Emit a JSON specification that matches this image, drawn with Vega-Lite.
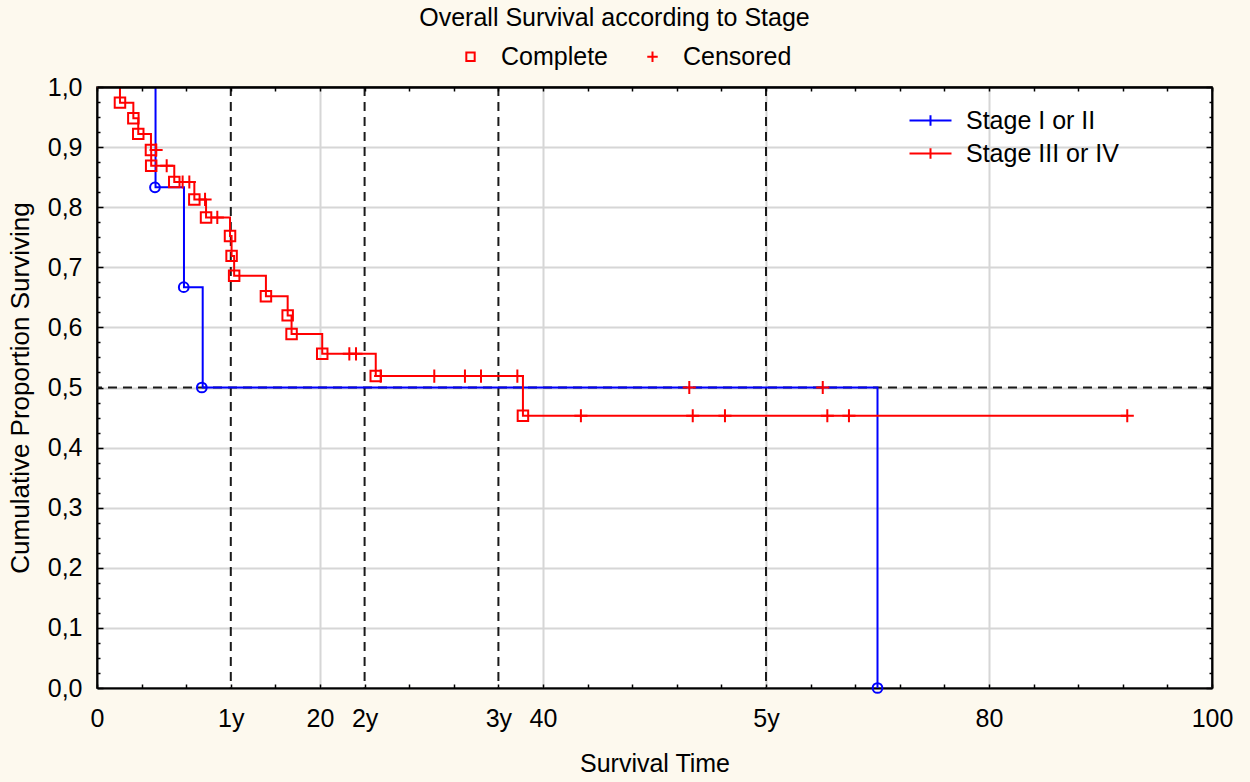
{
  "$schema": "https://vega.github.io/schema/vega-lite/v6.json",
  "width": 1115,
  "height": 601,
  "autosize": {"type": "none"},
  "padding": {"left": 97, "top": 87, "right": 38, "bottom": 94},
  "background": "#fdf9ee",
  "config": {
    "view": {"fill": "white", "stroke": "black", "strokeWidth": 1.5},
    "font": "Liberation Sans",
    "axis": {
      "labelFont": "Liberation Sans", "titleFont": "Liberation Sans",
      "labelFontSize": 25, "titleFontSize": 25, "titleFontWeight": "normal",
      "labelColor": "black", "titleColor": "black",
      "domainColor": "black", "domainWidth": 2,
      "tickColor": "black", "tickWidth": 1.5,
      "labelOverlap": false, "labelBound": false, "labelFlush": false
    },
    "legend": {"labelFont": "Liberation Sans", "labelFontSize": 25, "labelColor": "black"}
  },
  "title": {
    "text": "Overall Survival according to Stage",
    "font": "Liberation Sans", "fontSize": 25, "fontWeight": "normal", "color": "black",
    "anchor": "middle", "dx": -40, "offset": 13
  },
  "datasets": {
    "vref": [{"t": 12}, {"t": 24}, {"t": 36}, {"t": 60}],
    "href": [{"S": 0.5}],
    "curve": [
      {"series": "Stage I or II", "t": 0, "S": 1},
      {"series": "Stage I or II", "t": 5.25, "S": 0.833},
      {"series": "Stage I or II", "t": 7.8, "S": 0.667},
      {"series": "Stage I or II", "t": 9.48, "S": 0.5},
      {"series": "Stage I or II", "t": 70.0, "S": 0},
      {"series": "Stage III or IV", "t": 0, "S": 1},
      {"series": "Stage III or IV", "t": 2.06, "S": 0.974},
      {"series": "Stage III or IV", "t": 3.26, "S": 0.948},
      {"series": "Stage III or IV", "t": 3.7, "S": 0.922},
      {"series": "Stage III or IV", "t": 4.84, "S": 0.895},
      {"series": "Stage III or IV", "t": 4.86, "S": 0.869},
      {"series": "Stage III or IV", "t": 6.93, "S": 0.842},
      {"series": "Stage III or IV", "t": 8.73, "S": 0.813},
      {"series": "Stage III or IV", "t": 9.78, "S": 0.783},
      {"series": "Stage III or IV", "t": 11.93, "S": 0.752},
      {"series": "Stage III or IV", "t": 12.07, "S": 0.719},
      {"series": "Stage III or IV", "t": 12.3, "S": 0.686},
      {"series": "Stage III or IV", "t": 15.15, "S": 0.652},
      {"series": "Stage III or IV", "t": 17.1, "S": 0.62},
      {"series": "Stage III or IV", "t": 17.45, "S": 0.589},
      {"series": "Stage III or IV", "t": 20.2, "S": 0.556},
      {"series": "Stage III or IV", "t": 25.0, "S": 0.519},
      {"series": "Stage III or IV", "t": 38.2, "S": 0.453},
      {"series": "Stage III or IV", "t": 92.4, "S": 0.453}
    ],
    "redpts": [
      {"kind": "Complete", "t": 2.06, "S": 0.974},
      {"kind": "Complete", "t": 3.26, "S": 0.948},
      {"kind": "Complete", "t": 3.7, "S": 0.922},
      {"kind": "Complete", "t": 4.84, "S": 0.895},
      {"kind": "Complete", "t": 4.86, "S": 0.869},
      {"kind": "Complete", "t": 6.93, "S": 0.842},
      {"kind": "Complete", "t": 8.73, "S": 0.813},
      {"kind": "Complete", "t": 9.78, "S": 0.783},
      {"kind": "Complete", "t": 11.93, "S": 0.752},
      {"kind": "Complete", "t": 12.07, "S": 0.719},
      {"kind": "Complete", "t": 12.3, "S": 0.686},
      {"kind": "Complete", "t": 15.15, "S": 0.652},
      {"kind": "Complete", "t": 17.1, "S": 0.62},
      {"kind": "Complete", "t": 17.45, "S": 0.589},
      {"kind": "Complete", "t": 20.2, "S": 0.556},
      {"kind": "Complete", "t": 25.0, "S": 0.519},
      {"kind": "Complete", "t": 38.2, "S": 0.453},
      {"kind": "Censored", "t": 5.3, "S": 0.895},
      {"kind": "Censored", "t": 6.25, "S": 0.869},
      {"kind": "Censored", "t": 7.68, "S": 0.842},
      {"kind": "Censored", "t": 8.28, "S": 0.842},
      {"kind": "Censored", "t": 9.69, "S": 0.813},
      {"kind": "Censored", "t": 10.79, "S": 0.783},
      {"kind": "Censored", "t": 22.63, "S": 0.556},
      {"kind": "Censored", "t": 23.23, "S": 0.556},
      {"kind": "Censored", "t": 25.44, "S": 0.519},
      {"kind": "Censored", "t": 30.25, "S": 0.519},
      {"kind": "Censored", "t": 33.0, "S": 0.519},
      {"kind": "Censored", "t": 34.44, "S": 0.519},
      {"kind": "Censored", "t": 37.7, "S": 0.519},
      {"kind": "Censored", "t": 43.4, "S": 0.453},
      {"kind": "Censored", "t": 53.43, "S": 0.453},
      {"kind": "Censored", "t": 56.32, "S": 0.453},
      {"kind": "Censored", "t": 65.5, "S": 0.453},
      {"kind": "Censored", "t": 67.44, "S": 0.453},
      {"kind": "Censored", "t": 92.4, "S": 0.453},
      {"kind": "Censored", "t": 53.12, "S": 0.5},
      {"kind": "Censored", "t": 65.09, "S": 0.5}
    ],
    "bluepts": [
      {"t": 5.2, "S": 0.833},
      {"t": 7.78, "S": 0.667},
      {"t": 9.4, "S": 0.5},
      {"t": 70.0, "S": 0}
    ]
  },
  "layer": [
    {
      "data": {"name": "vref"},
      "mark": {"type": "rule", "color": "#1a1a1a", "strokeWidth": 2, "strokeDash": [9, 6]},
      "encoding": {
        "x": {
          "field": "t", "type": "quantitative",
          "scale": {"domain": [0, 100], "nice": false, "zero": false},
          "axis": {
            "orient": "top", "title": null, "labels": false, "grid": false,
            "domain": true, "domainColor": "black", "domainWidth": 2.5, "zindex": 2,
            "values": [0,4,8,12,16,20,24,28,32,36,40,44,48,52,56,60,64,68,72,76,80,84,88,92,96,100],
            "tickSize": -4
          }
        }
      }
    },
    {
      "data": {"name": "href"},
      "mark": {"type": "rule", "color": "#1a1a1a", "strokeWidth": 2, "strokeDash": [9, 6]},
      "encoding": {
        "y": {
          "field": "S", "type": "quantitative",
          "scale": {"domain": [0, 1], "nice": false, "zero": false},
          "axis": {
            "orient": "right", "title": null, "labels": false, "grid": false,
            "domain": true, "domainColor": "black", "domainWidth": 2, "zindex": 2,
            "values": [0,0.025,0.05,0.075,0.1,0.125,0.15,0.175,0.2,0.225,0.25,0.275,0.3,0.325,0.35,0.375,0.4,0.425,0.45,0.475,0.5,0.525,0.55,0.575,0.6,0.625,0.65,0.675,0.7,0.725,0.75,0.775,0.8,0.825,0.85,0.875,0.9,0.925,0.95,0.975,1],
            "tickSize": {"condition": {"test": "abs(datum.value*10 - round(datum.value*10)) < 0.001", "value": -6}, "value": -3}
          }
        }
      }
    },
    {
      "data": {"name": "curve"},
      "mark": {"type": "line", "interpolate": "step-after", "strokeWidth": 2, "clip": true},
      "encoding": {
        "x": {
          "field": "t", "type": "quantitative",
          "scale": {"domain": [0, 100], "nice": false, "zero": false},
          "axis": {
            "orient": "bottom", "title": "Survival Time", "titlePadding": 20,
            "values": [0,4,8,12,16,20,24,28,32,36,40,44,48,52,56,60,64,68,72,76,80,84,88,92,96,100],
            "labelExpr": "datum.value == 12 ? '1y' : datum.value == 24 ? '2y' : datum.value == 36 ? '3y' : datum.value == 60 ? '5y' : (datum.value == 0 || datum.value == 20 || datum.value == 40 || datum.value == 80 || datum.value == 100) ? datum.label : ''",
            "tickSize": -4, "labelPadding": 22,
            "grid": true, "gridColor": "#d6d6d6", "gridWidth": 2,
            "gridOpacity": {"condition": {"test": "datum.value == 20 || datum.value == 40 || datum.value == 60 || datum.value == 80", "value": 1}, "value": 0}
          }
        },
        "y": {
          "field": "S", "type": "quantitative",
          "scale": {"domain": [0, 1], "nice": false, "zero": false},
          "axis": {
            "orient": "left", "title": "Cumulative Proportion Surviving", "titleFontSize": 26, "titlePadding": 14,
            "values": [0,0.025,0.05,0.075,0.1,0.125,0.15,0.175,0.2,0.225,0.25,0.275,0.3,0.325,0.35,0.375,0.4,0.425,0.45,0.475,0.5,0.525,0.55,0.575,0.6,0.625,0.65,0.675,0.7,0.725,0.75,0.775,0.8,0.825,0.85,0.875,0.9,0.925,0.95,0.975,1],
            "labelExpr": "abs(datum.value*10 - round(datum.value*10)) < 0.001 ? replace(format(datum.value, '.1f'), '.', ',') : ''",
            "tickSize": {"condition": {"test": "abs(datum.value*10 - round(datum.value*10)) < 0.001", "value": -6}, "value": -3},
            "labelPadding": 21,
            "grid": true, "gridColor": "#d6d6d6", "gridWidth": 2,
            "gridOpacity": {"condition": {"test": "abs(datum.value*10 - round(datum.value*10)) < 0.001", "value": 1}, "value": 0}
          }
        },
        "color": {
          "field": "series", "type": "nominal",
          "scale": {"domain": ["Stage I or II", "Stage III or IV"], "range": ["#0000ff", "#ff0000"]},
          "legend": {
            "title": null, "orient": "none", "legendX": 821, "legendY": 21,
            "symbolType": "M-2,0H2M0,-0.5V0.5", "symbolSize": 441, "symbolStrokeWidth": 2,
            "labelOffset": 23, "rowPadding": 7, "padding": 0, "labelFontSize": 25
          }
        }
      }
    },
    {
      "data": {"name": "redpts"},
      "mark": {"type": "point", "filled": false, "color": "#ff0000", "stroke": "#ff0000", "strokeWidth": 2, "size": 110, "opacity": 1},
      "encoding": {
        "x": {"field": "t", "type": "quantitative", "scale": {"domain": [0, 100], "nice": false, "zero": false}, "axis": null},
        "y": {"field": "S", "type": "quantitative", "scale": {"domain": [0, 1], "nice": false, "zero": false}, "axis": null},
        "shape": {
          "field": "kind", "type": "nominal",
          "scale": {"domain": ["Complete", "Censored"], "range": ["square", "M-1.25,0H1.25M0,-1.25V1.25"]},
          "legend": {
            "title": null, "orient": "none", "direction": "horizontal", "legendX": 361, "legendY": -43,
            "symbolSize": 70, "symbolStrokeWidth": 2, "symbolStrokeColor": "#ff0000", "symbolFillColor": "transparent",
            "labelOffset": 18, "columnPadding": 32, "padding": 0, "labelFontSize": 25
          }
        }
      }
    },
    {
      "data": {"name": "bluepts"},
      "mark": {"type": "point", "shape": "circle", "filled": false, "color": "#0000ff", "stroke": "#0000ff", "strokeWidth": 2, "size": 95, "opacity": 1, "clip": false},
      "encoding": {
        "x": {"field": "t", "type": "quantitative", "scale": {"domain": [0, 100], "nice": false, "zero": false}, "axis": null},
        "y": {"field": "S", "type": "quantitative", "scale": {"domain": [0, 1], "nice": false, "zero": false}, "axis": null}
      }
    }
  ],
  "resolve": {"axis": {"x": "independent", "y": "independent"}}
}
